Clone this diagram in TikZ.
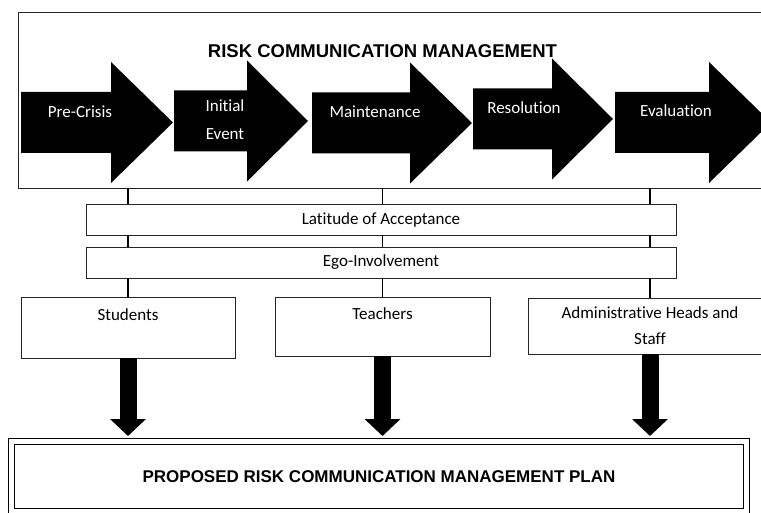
\documentclass[tikz,border=0pt]{standalone}
\usepackage{fontspec}
\setmainfont[Ligatures=NoCommon]{Carlito}
\newfontfamily\headfont{Liberation Sans}
\usetikzlibrary{arrows.meta}

\tikzset{
  box/.style={draw=black!85, line width=0.8pt, fill=white, inner sep=0pt, align=center,
    font=\fontsize{17}{26}\selectfont},
  phase/.style={text=white, align=center, font=\fontsize{17}{28}\selectfont},
  link/.style={line width=1.4pt},
  flow/.style={line width=17pt, -{Triangle[width=35pt,length=17pt]}},
}

\begin{document}
\begin{tikzpicture}[x=1pt,y=-1pt]
\useasboundingbox (0,0) rectangle (761,513);

% frame with the five phases
\node[box, line width=0.9pt, minimum width=757, minimum height=176] (rcm) at (396.5,100) {};
\node[font=\headfont\bfseries\fontsize{18.5}{22}\selectfont] (title) at (382.5,51) {RISK COMMUNICATION MANAGEMENT};
\foreach \xl/\xh/\xt/\yc in {21/111/173/122.5, 174/247/308/121, 312/410/472/123, 473/552/613/119, 615/709/771/122.5}
  \fill (\xl,\yc-30.5) -- (\xh,\yc-30.5) -- (\xh,\yc-60.5) -- (\xt,\yc)
    -- (\xh,\yc+60.5) -- (\xh,\yc+30.5) -- (\xl,\yc+30.5) -- cycle;
\node[phase] (precrisis) at (80,112) {Pre-Crisis};
\node[phase] (initial) at (225,120) {Initial\\Event};
\node[phase] (maint) at (375,112) {Maintenance};
\node[phase] (resol) at (524,108) {Resolution};
\node[phase] (evalu) at (676,111) {Evaluation};

% theory bars
\node[box, minimum width=590, minimum height=31] (latitude) at (381,219.5) {Latitude of Acceptance};
\node[box, minimum width=590, minimum height=31] (ego) at (381,262.5) {Ego-Involvement};

% groups
\node[box, minimum width=214, minimum height=61] (students) at (128,327.5) {Students\\~};
\node[box, minimum width=215, minimum height=59] (teachers) at (382.5,326.5) {Teachers\\~};
\node[box, minimum width=244, minimum height=56] (admin) at (650,326) {Administrative Heads and\\Staff};

% plan
\node[draw, double, double distance=5pt, line width=1pt, minimum width=735.5, minimum height=70,
  font=\headfont\bfseries\fontsize{17}{20}\selectfont] (plan) at (379,476.5) {PROPOSED RISK COMMUNICATION MANAGEMENT PLAN};

\foreach \n in {students,teachers,admin} {
  \draw[link] (\n.north |- rcm.south) -- (\n.north |- latitude.north);
  \draw[link] (\n.north |- latitude.south) -- (\n.north |- ego.north);
  \draw[link] (\n.north |- ego.south) -- (\n.north);
  \draw[flow, shorten >=5pt] (\n.south) -- (\n.south |- plan.north);
}
\end{tikzpicture}
\end{document}
